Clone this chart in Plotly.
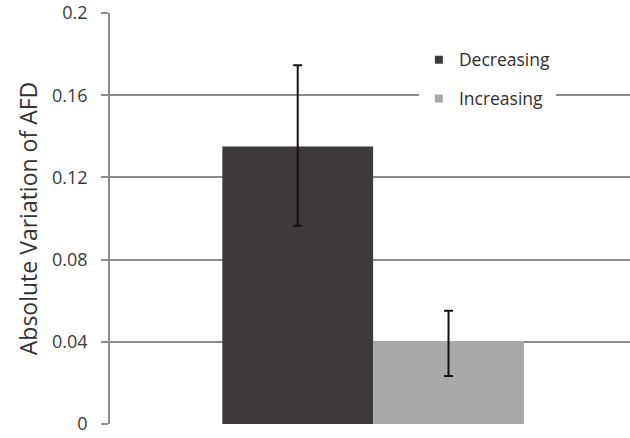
import plotly.graph_objects as go

# Data
groups = ["Decreasing", "Increasing"]
values = [0.135, 0.0404]
err_plus = [0.0396, 0.0147]
err_minus = [0.0385, 0.0170]
bar_colors = ["#3e3a3b", "#a9a9a9"]
y_ticks = [0, 0.04, 0.08, 0.12, 0.16, 0.2]
y_tick_labels = ["0", "0.04", "0.08", "0.12", "0.16", "0.2"]

FONT = "Open Sans"
GRID = "#8c8c8c"

fig = go.Figure()

for name, v, ep, em, col in zip(groups, values, err_plus, err_minus, bar_colors):
    fig.add_trace(go.Bar(
        x=[0], y=[v], name=name, marker=dict(color=col, line=dict(width=0)),
        error_y=dict(type="data", symmetric=False, array=[ep], arrayminus=[em],
                     color="#111111", thickness=2, width=4.5),
        showlegend=False,
    ))

# Legend entries with small square swatches
for i, (name, col) in enumerate(zip(groups, bar_colors)):
    fig.add_trace(go.Scatter(
        x=[None], y=[None], mode="markers", name=name,
        marker=dict(symbol="square", size=8, color=col),
        legendgroup=f"g{i}",
    ))

fig.update_layout(
    width=630, height=438,
    margin=dict(l=110, r=0, t=13, b=14),
    paper_bgcolor="white", plot_bgcolor="white",
    barmode="group", bargap=0.42, bargroupgap=0,
    font=dict(family=FONT, color="#3a3a3a"),
    legend=dict(
        x=0.594, y=0.93, xanchor="left", yanchor="top",
        bgcolor="white", borderwidth=0,
        font=dict(family=FONT, size=17.5, color="#2e2e2e"),
        traceorder="grouped", tracegroupgap=13,
        itemwidth=30,
    ),
    xaxis=dict(
        range=[-0.506, 0.494], showticklabels=False, ticks="",
        showgrid=False, zeroline=False, showline=False, fixedrange=True,
    ),
    yaxis=dict(
        range=[0, 0.2], tickvals=y_ticks, ticktext=y_tick_labels,
        showgrid=True, gridcolor=GRID, gridwidth=1.5,
        zeroline=False, showline=True, linecolor=GRID, linewidth=1.5,
        ticks="outside", ticklen=7, tickcolor=GRID, tickwidth=1.5,
        ticklabelstandoff=10,
        tickfont=dict(family=FONT, size=18, color="#3a3a3a"),
        title=dict(text="Absolute Variation of AFD",
                   font=dict(family=FONT, size=23, color="#333333"),
                   standoff=8),
    ),
)

fig.write_html("out.html")
